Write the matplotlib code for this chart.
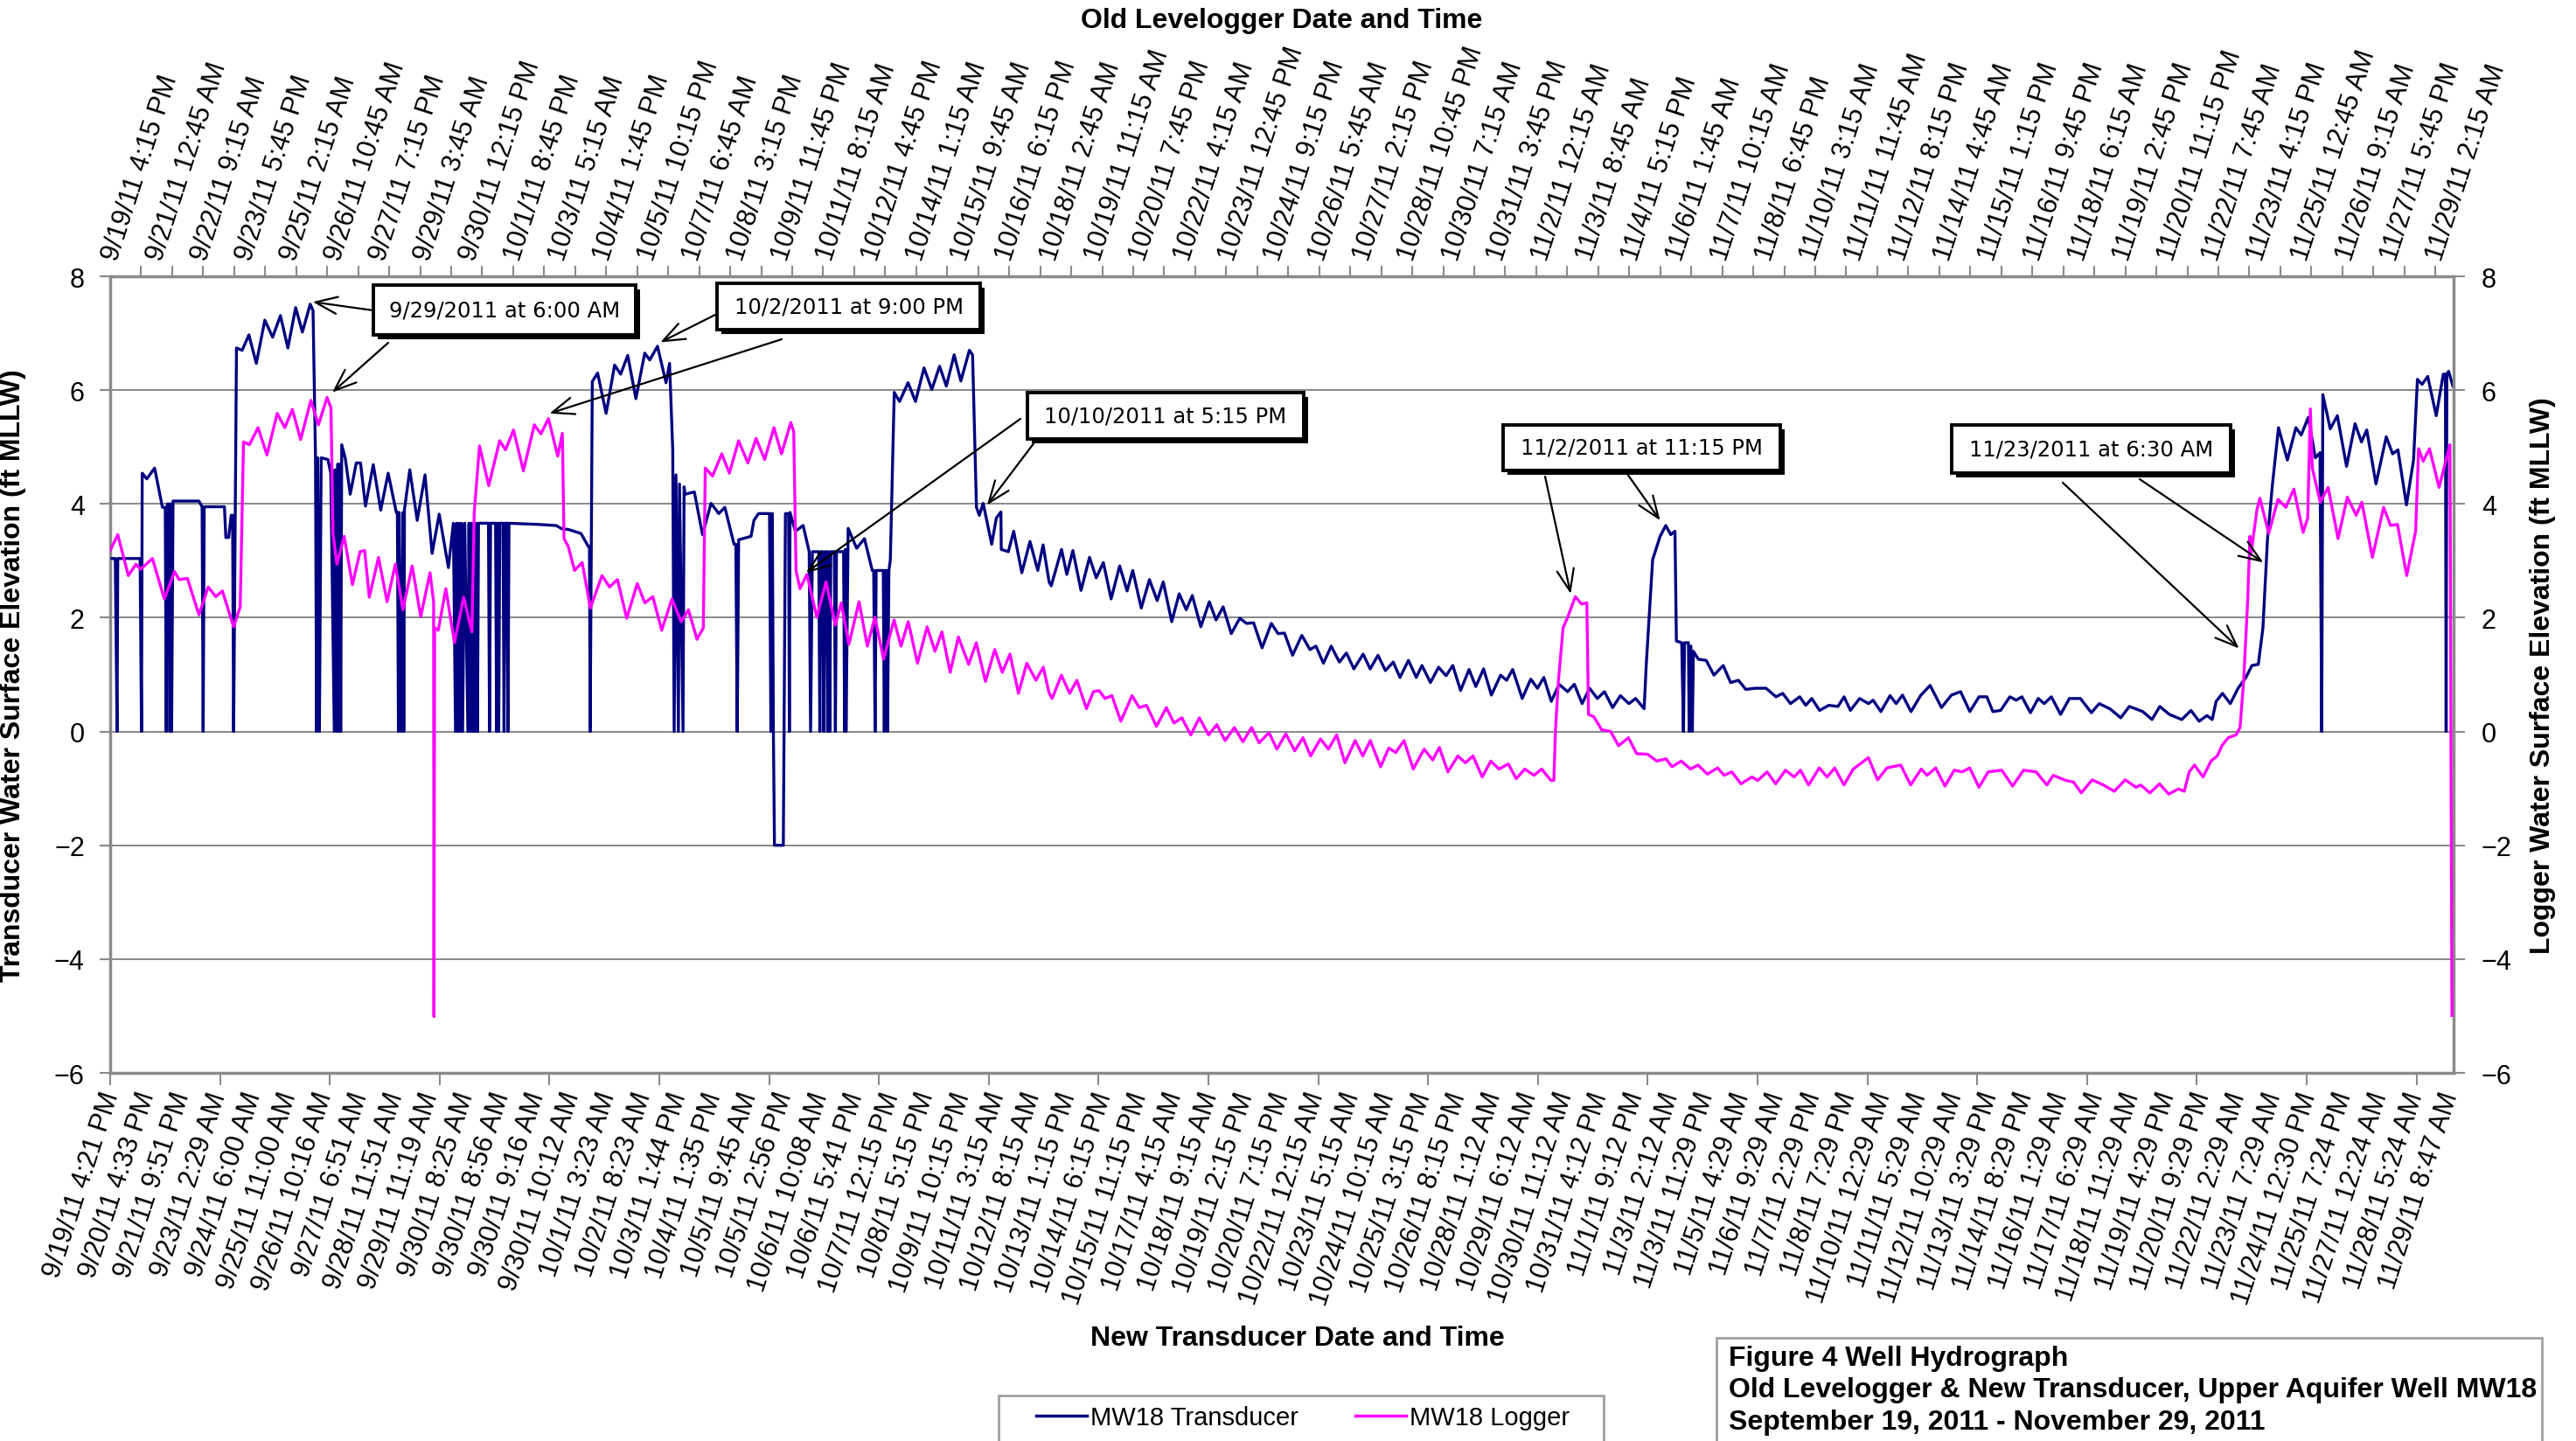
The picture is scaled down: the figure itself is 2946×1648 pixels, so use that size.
import numpy as np
import matplotlib
matplotlib.use('Agg')
import matplotlib.pyplot as plt
from matplotlib.patches import Rectangle
from matplotlib.lines import Line2D

plt.rcParams['font.family'] = ['Liberation Sans', 'DejaVu Sans']

# -------------------------------------------------------------------
# Data read off the hydrograph
# transducer: (bottom category position, ft MLLW)
# logger:     (days since 9/19/11 4:15 PM on the top axis, ft MLLW)
# -------------------------------------------------------------------
transducer = [
    (0.00, 3.04), (0.09, 3.04), (0.14, 0.0), (0.16, 3.04), (0.79, 3.04), (0.83, 0.0),
    (0.85, 4.54), (0.98, 4.44), (1.20, 4.63), (1.42, 3.94), (1.50, 3.94), (1.53, 0.0),
    (1.56, 4.0), (1.61, 4.0), (1.63, 0.0), (1.66, 4.0), (1.68, 0.0), (1.72, 4.05),
    (2.45, 4.05), (2.54, 3.95), (2.57, 0.0), (2.60, 3.95), (3.17, 3.95), (3.21, 3.41),
    (3.29, 3.41), (3.36, 3.80), (3.40, 3.80), (3.43, 0.0), (3.51, 6.74), (3.67, 6.70),
    (3.86, 6.97), (4.07, 6.47), (4.31, 7.23), (4.53, 6.93), (4.75, 7.31), (4.96, 6.74),
    (5.18, 7.45), (5.37, 7.02), (5.59, 7.51), (5.67, 7.40), (5.74, 4.81), (5.77, 0.0),
    (5.80, 4.81), (5.85, 0.0), (5.90, 4.81), (6.09, 4.78), (6.17, 4.54), (6.27, 0.0),
    (6.29, 4.6), (6.35, 0.0), (6.37, 4.7), (6.42, 0.0), (6.43, 4.7), (6.45, 0.0),
    (6.48, 5.04), (6.58, 4.80), (6.72, 4.17), (6.89, 4.72), (7.01, 4.72), (7.15, 3.96),
    (7.37, 4.69), (7.58, 3.89), (7.79, 4.54), (8.02, 3.85), (8.05, 3.85), (8.08, 0.0),
    (8.10, 3.85), (8.16, 0.0), (8.21, 3.85), (8.23, 0.0), (8.25, 3.9), (8.40, 4.60),
    (8.61, 3.71), (8.83, 4.51), (9.03, 3.13), (9.23, 3.82), (9.49, 2.88), (9.63, 3.66),
    (9.69, 0.0), (9.72, 3.66), (9.76, 0.0), (9.79, 3.66), (9.83, 0.0), (9.86, 3.66),
    (9.89, 0.0), (9.95, 3.66), (10.04, 0.0), (10.07, 3.66), (10.11, 0.0), (10.14, 3.66),
    (10.18, 0.0), (10.21, 3.66), (10.24, 0.0), (10.27, 3.66), (10.31, 0.0), (10.34, 3.66),
    (10.62, 3.66), (10.65, 0.0), (10.68, 3.66), (10.82, 3.66), (10.85, 0.0), (10.88, 3.66),
    (10.91, 0.0), (10.94, 3.66), (11.03, 3.66), (11.06, 0.0), (11.09, 3.66), (11.14, 3.66),
    (11.17, 0.0), (11.20, 3.66), (12.00, 3.64), (12.53, 3.62), (12.70, 3.56), (12.88, 3.55),
    (13.23, 3.48), (13.44, 3.25), (13.47, 3.25), (13.49, 0.0), (13.55, 6.15), (13.70, 6.30),
    (13.94, 5.59), (14.18, 6.44), (14.35, 6.28), (14.55, 6.61), (14.78, 5.85), (15.03, 6.65),
    (15.17, 6.53), (15.39, 6.77), (15.63, 6.13), (15.73, 6.47), (15.82, 4.95), (15.86, 0.0),
    (15.91, 4.51), (15.98, 0.0), (16.01, 4.35), (16.11, 0.0), (16.14, 4.30), (16.17, 4.17),
    (16.43, 4.21), (16.66, 3.46), (16.90, 4.01), (17.12, 3.83), (17.29, 3.94), (17.55, 3.29),
    (17.60, 3.29), (17.64, 0.0), (17.68, 3.37), (18.03, 3.43), (18.11, 3.71), (18.24, 3.83),
    (18.55, 3.83), (18.59, 0.0), (18.61, 3.83), (18.63, 3.83), (18.66, 0.0), (18.69, -2.0),
    (18.94, -2.0), (19.00, 3.83), (19.09, 3.83), (19.11, 0.0), (19.13, 3.85), (19.28, 3.52),
    (19.50, 3.62), (19.67, 3.16), (19.71, 0.0), (19.76, 3.16), (19.94, 3.16), (19.97, 0.0),
    (20.00, 3.16), (20.05, 3.16), (20.08, 0.0), (20.11, 3.16), (20.16, 3.16), (20.19, 0.0),
    (20.22, 3.16), (20.25, 0.0), (20.28, 3.16), (20.38, 3.16), (20.41, 0.0), (20.44, 3.16),
    (20.64, 3.16), (20.67, 0.0), (20.69, 3.2), (20.71, 0.0), (20.77, 3.57), (21.01, 3.22),
    (21.23, 3.39), (21.45, 2.83), (21.49, 2.83), (21.53, 0.0), (21.56, 2.83), (21.76, 2.83),
    (21.79, 0.0), (21.82, 2.83), (21.85, 2.83), (21.88, 0.0), (21.92, 2.83), (21.96, 3.02),
    (22.07, 5.96), (22.22, 5.80), (22.46, 6.13), (22.67, 5.80), (22.91, 6.39), (23.13, 6.01),
    (23.35, 6.42), (23.54, 6.07), (23.76, 6.62), (23.95, 6.16), (24.19, 6.70), (24.28, 6.62),
    (24.39, 3.94), (24.47, 3.80), (24.58, 4.01), (24.82, 3.29), (24.95, 3.75), (25.08, 3.86),
    (25.09, 3.20), (25.29, 3.16), (25.44, 3.52), (25.67, 2.79), (25.90, 3.34), (26.12, 2.83),
    (26.27, 3.28), (26.44, 2.63), (26.50, 2.56), (26.79, 3.20), (26.94, 2.76), (27.11, 3.18),
    (27.34, 2.48), (27.58, 3.06), (27.77, 2.70), (27.97, 2.97), (28.19, 2.33), (28.43, 2.91),
    (28.64, 2.47), (28.80, 2.83), (29.04, 2.17), (29.27, 2.67), (29.49, 2.30), (29.66, 2.63),
    (29.90, 1.93), (30.11, 2.42), (30.31, 2.14), (30.48, 2.39), (30.72, 1.84), (30.96, 2.28),
    (31.15, 1.96), (31.35, 2.19), (31.58, 1.72), (31.82, 1.99), (32.01, 1.90), (32.21, 1.91),
    (32.45, 1.47), (32.71, 1.90), (32.90, 1.72), (33.08, 1.73), (33.31, 1.34), (33.57, 1.69),
    (33.80, 1.44), (33.97, 1.50), (34.18, 1.20), (34.40, 1.50), (34.63, 1.22), (34.83, 1.38),
    (35.04, 1.10), (35.30, 1.36), (35.50, 1.10), (35.72, 1.34), (35.93, 1.07), (36.15, 1.22),
    (36.34, 0.95), (36.58, 1.25), (36.80, 0.95), (36.96, 1.16), (37.20, 0.86), (37.43, 1.13),
    (37.64, 0.98), (37.83, 1.16), (38.05, 0.72), (38.29, 1.09), (38.48, 0.79), (38.70, 1.10),
    (38.92, 0.64), (39.18, 0.99), (39.35, 0.90), (39.52, 1.09), (39.79, 0.58), (40.03, 0.92),
    (40.22, 0.76), (40.40, 0.95), (40.61, 0.53), (40.83, 0.83), (41.07, 0.70), (41.26, 0.83),
    (41.48, 0.49), (41.69, 0.76), (41.91, 0.58), (42.11, 0.70), (42.34, 0.42), (42.56, 0.63),
    (42.80, 0.49), (42.99, 0.58), (43.23, 0.40), (43.29, 1.18), (43.47, 3.02), (43.68, 3.43),
    (43.84, 3.62), (43.98, 3.46), (44.10, 3.52), (44.14, 1.59), (44.29, 1.56), (44.34, 0.0),
    (44.37, 1.56), (44.48, 1.56), (44.50, 0.0), (44.55, 1.50), (44.59, 0.0), (44.62, 1.41),
    (44.76, 1.27), (44.98, 1.25), (45.20, 0.99), (45.46, 1.16), (45.67, 0.86), (45.89, 0.90),
    (46.10, 0.74), (46.36, 0.76), (46.67, 0.76), (46.95, 0.61), (47.14, 0.67), (47.36, 0.49),
    (47.62, 0.61), (47.79, 0.46), (47.96, 0.58), (48.18, 0.37), (48.44, 0.46), (48.70, 0.44),
    (48.87, 0.61), (49.05, 0.37), (49.31, 0.58), (49.56, 0.49), (49.69, 0.55), (49.91, 0.35),
    (50.17, 0.63), (50.34, 0.49), (50.52, 0.64), (50.76, 0.35), (51.04, 0.64), (51.30, 0.81),
    (51.62, 0.42), (51.90, 0.64), (52.16, 0.70), (52.42, 0.35), (52.68, 0.61), (52.90, 0.61),
    (53.07, 0.35), (53.29, 0.37), (53.55, 0.61), (53.73, 0.55), (53.89, 0.61), (54.13, 0.33),
    (54.35, 0.58), (54.52, 0.49), (54.72, 0.61), (54.98, 0.30), (55.23, 0.58), (55.54, 0.58),
    (55.85, 0.33), (56.07, 0.49), (56.37, 0.40), (56.68, 0.24), (56.92, 0.44), (57.30, 0.35),
    (57.56, 0.21), (57.78, 0.44), (58.05, 0.30), (58.40, 0.21), (58.66, 0.37), (58.89, 0.18),
    (59.11, 0.28), (59.26, 0.21), (59.37, 0.53), (59.55, 0.67), (59.77, 0.49), (59.99, 0.76),
    (60.21, 0.95), (60.38, 1.16), (60.56, 1.18), (60.69, 1.82), (60.82, 3.39), (60.96, 4.35),
    (61.13, 5.34), (61.38, 4.77), (61.62, 5.34), (61.77, 5.21), (61.97, 5.52), (62.17, 4.81),
    (62.30, 4.90), (62.35, 0.0), (62.38, 5.92), (62.59, 5.32), (62.79, 5.55), (63.05, 4.66),
    (63.29, 5.41), (63.47, 5.09), (63.62, 5.30), (63.88, 4.35), (64.17, 5.18), (64.35, 4.88),
    (64.50, 4.95), (64.74, 3.98), (64.94, 4.77), (65.05, 6.19), (65.18, 6.10), (65.34, 6.24),
    (65.58, 5.55), (65.78, 6.28), (65.84, 6.28), (65.86, 0.0), (65.88, 6.28), (65.93, 6.33),
    (66.05, 6.07),
]

logger = [
    (0.00, 3.18), (0.23, 3.46), (0.55, 2.74), (0.78, 2.94), (0.92, 2.85), (1.28, 3.04),
    (1.64, 2.33), (1.95, 2.81), (2.09, 2.67), (2.34, 2.69), (2.69, 2.05), (2.97, 2.54),
    (3.20, 2.37), (3.40, 2.47), (3.74, 1.84), (3.94, 2.19), (4.04, 5.09), (4.22, 5.04),
    (4.48, 5.34), (4.75, 4.86), (5.06, 5.59), (5.29, 5.34), (5.52, 5.66), (5.77, 5.13),
    (6.08, 5.82), (6.31, 5.39), (6.57, 5.87), (6.69, 5.69), (6.75, 3.48), (6.87, 2.94),
    (7.09, 3.43), (7.34, 2.58), (7.57, 3.16), (7.71, 3.18), (7.85, 2.36), (8.13, 3.06),
    (8.39, 2.28), (8.64, 2.94), (8.87, 2.14), (9.15, 2.91), (9.41, 2.02), (9.69, 2.79),
    (9.80, 2.28), (9.81, -5.01), (9.83, 1.82), (9.94, 1.78), (10.17, 2.51), (10.43, 1.56),
    (10.71, 2.36), (10.96, 1.75), (11.03, 3.85), (11.19, 5.02), (11.47, 4.32), (11.80, 5.11),
    (11.98, 4.95), (12.22, 5.30), (12.52, 4.58), (12.85, 5.39), (13.05, 5.23), (13.28, 5.50),
    (13.56, 4.84), (13.70, 5.24), (13.75, 3.39), (13.88, 3.25), (14.07, 2.83), (14.30, 2.97),
    (14.55, 2.17), (14.90, 2.74), (15.13, 2.54), (15.37, 2.67), (15.65, 1.99), (15.97, 2.60),
    (16.20, 2.26), (16.44, 2.37), (16.71, 1.78), (17.02, 2.33), (17.30, 1.93), (17.52, 2.14),
    (17.78, 1.62), (17.97, 1.82), (18.03, 4.63), (18.25, 4.49), (18.53, 4.88), (18.76, 4.54),
    (19.04, 5.11), (19.32, 4.72), (19.57, 5.15), (19.83, 4.78), (20.11, 5.34), (20.34, 4.88),
    (20.62, 5.43), (20.71, 5.27), (20.78, 2.83), (20.90, 2.51), (21.11, 2.76), (21.41, 2.01),
    (21.69, 2.63), (21.97, 1.87), (22.15, 2.26), (22.38, 1.53), (22.69, 2.28), (22.94, 1.50),
    (23.17, 2.01), (23.43, 1.27), (23.75, 1.96), (23.96, 1.50), (24.18, 1.93), (24.46, 1.20),
    (24.75, 1.84), (24.99, 1.41), (25.20, 1.75), (25.45, 1.04), (25.70, 1.66), (26.01, 1.18),
    (26.24, 1.56), (26.52, 0.88), (26.80, 1.44), (27.03, 1.04), (27.26, 1.36), (27.52, 0.67),
    (27.77, 1.20), (28.05, 0.90), (28.27, 1.13), (28.45, 0.67), (28.54, 0.58), (28.82, 0.99),
    (29.07, 0.67), (29.29, 0.90), (29.58, 0.40), (29.79, 0.70), (29.96, 0.72), (30.14, 0.58),
    (30.35, 0.63), (30.62, 0.18), (30.96, 0.63), (31.18, 0.42), (31.40, 0.46), (31.70, 0.09),
    (32.00, 0.42), (32.23, 0.15), (32.47, 0.24), (32.74, -0.06), (33.00, 0.24), (33.28, -0.06),
    (33.53, 0.12), (33.78, -0.16), (34.06, 0.07), (34.32, -0.18), (34.58, 0.07), (34.81, -0.20),
    (35.11, -0.02), (35.35, -0.31), (35.62, -0.04), (35.89, -0.34), (36.14, -0.11), (36.37, -0.43),
    (36.67, -0.13), (36.91, -0.31), (37.16, -0.06), (37.41, -0.55), (37.72, -0.16), (37.95, -0.43),
    (38.18, -0.16), (38.49, -0.62), (38.74, -0.29), (38.95, -0.37), (39.20, -0.16), (39.48, -0.66),
    (39.81, -0.31), (40.07, -0.50), (40.27, -0.28), (40.53, -0.71), (40.83, -0.43), (41.06, -0.55),
    (41.29, -0.43), (41.57, -0.80), (41.83, -0.52), (42.08, -0.66), (42.36, -0.57), (42.60, -0.83),
    (42.86, -0.66), (43.14, -0.77), (43.37, -0.66), (43.65, -0.86), (43.74, -0.86), (43.79, 0.03),
    (43.88, 0.90), (44.02, 1.82), (44.16, 2.01), (44.39, 2.37), (44.58, 2.24), (44.74, 2.26),
    (44.79, 0.30), (44.95, 0.26), (45.19, 0.03), (45.46, 0.00), (45.70, -0.25), (46.00, -0.11),
    (46.25, -0.39), (46.58, -0.40), (46.86, -0.52), (47.14, -0.48), (47.32, -0.62), (47.60, -0.52),
    (47.88, -0.66), (48.11, -0.59), (48.39, -0.75), (48.70, -0.64), (48.90, -0.77), (49.13, -0.71),
    (49.41, -0.92), (49.74, -0.80), (49.92, -0.86), (50.20, -0.71), (50.46, -0.92), (50.76, -0.68),
    (51.02, -0.80), (51.21, -0.68), (51.46, -0.94), (51.78, -0.64), (52.02, -0.80), (52.25, -0.64),
    (52.53, -0.94), (52.81, -0.66), (53.27, -0.46), (53.55, -0.85), (53.83, -0.64), (54.25, -0.59),
    (54.55, -0.94), (54.87, -0.66), (55.05, -0.77), (55.31, -0.64), (55.59, -0.96), (55.87, -0.68),
    (56.11, -0.71), (56.34, -0.64), (56.62, -0.98), (56.90, -0.71), (57.31, -0.68), (57.64, -0.96),
    (57.97, -0.68), (58.35, -0.71), (58.68, -0.94), (58.87, -0.77), (59.25, -0.86), (59.49, -0.89),
    (59.72, -1.08), (60.05, -0.85), (60.39, -0.94), (60.72, -1.05), (61.05, -0.85), (61.38, -0.98),
    (61.52, -0.94), (61.80, -1.08), (62.09, -0.92), (62.37, -1.10), (62.66, -1.01), (62.84, -1.05),
    (62.99, -0.71), (63.15, -0.59), (63.41, -0.80), (63.65, -0.52), (63.84, -0.43), (63.98, -0.25),
    (64.17, -0.11), (64.41, -0.06), (64.53, 0.07), (64.64, 0.90), (64.76, 2.28), (64.83, 3.43),
    (64.86, 3.11), (65.04, 3.89), (65.13, 4.10), (65.40, 3.48), (65.68, 4.08), (65.92, 3.94),
    (66.16, 4.26), (66.44, 3.50), (66.58, 3.75), (66.66, 5.67), (66.72, 4.63), (66.96, 4.03),
    (67.20, 4.29), (67.50, 3.39), (67.78, 4.12), (68.05, 3.80), (68.22, 4.03), (68.54, 3.06),
    (68.88, 3.94), (69.09, 3.62), (69.30, 3.64), (69.58, 2.74), (69.85, 3.52), (69.94, 4.97),
    (70.08, 4.75), (70.27, 4.97), (70.56, 4.29), (70.89, 5.04), (70.95, -4.99),
]

bottom_labels = [
    "9/19/11 4:21 PM", "9/20/11 4:33 PM", "9/21/11 9:51 PM", "9/23/11 2:29 AM",
    "9/24/11 6:00 AM", "9/25/11 11:00 AM", "9/26/11 10:16 AM", "9/27/11 6:51 AM",
    "9/28/11 11:51 AM", "9/29/11 11:19 AM", "9/30/11 8:25 AM", "9/30/11 8:56 AM",
    "9/30/11 9:16 AM", "9/30/11 10:12 AM", "10/1/11 3:23 AM", "10/2/11 8:23 AM",
    "10/3/11 1:44 PM", "10/4/11 1:35 PM", "10/5/11 9:45 AM", "10/5/11 2:56 PM",
    "10/6/11 10:08 AM", "10/6/11 5:41 PM", "10/7/11 12:15 PM", "10/8/11 5:15 PM",
    "10/9/11 10:15 PM", "10/11/11 3:15 AM", "10/12/11 8:15 AM", "10/13/11 1:15 PM",
    "10/14/11 6:15 PM", "10/15/11 11:15 PM", "10/17/11 4:15 AM", "10/18/11 9:15 AM",
    "10/19/11 2:15 PM", "10/20/11 7:15 PM", "10/22/11 12:15 AM", "10/23/11 5:15 AM",
    "10/24/11 10:15 AM", "10/25/11 3:15 PM", "10/26/11 8:15 PM", "10/28/11 1:12 AM",
    "10/29/11 6:12 AM", "10/30/11 11:12 AM", "10/31/11 4:12 PM", "11/1/11 9:12 PM",
    "11/3/11 2:12 AM", "11/3/11 11:29 PM", "11/5/11 4:29 AM", "11/6/11 9:29 AM",
    "11/7/11 2:29 PM", "11/8/11 7:29 PM", "11/10/11 12:29 AM", "11/11/11 5:29 AM",
    "11/12/11 10:29 AM", "11/13/11 3:29 PM", "11/14/11 8:29 PM", "11/16/11 1:29 AM",
    "11/17/11 6:29 AM", "11/18/11 11:29 AM", "11/19/11 4:29 PM", "11/20/11 9:29 PM",
    "11/22/11 2:29 AM", "11/23/11 7:29 AM", "11/24/11 12:30 PM", "11/25/11 7:24 PM",
    "11/27/11 12:24 AM", "11/28/11 5:24 AM", "11/29/11 8:47 AM",
]

top_labels = [
    "9/19/11 4:15 PM", "9/21/11 12:45 AM", "9/22/11 9:15 AM", "9/23/11 5:45 PM",
    "9/25/11 2:15 AM", "9/26/11 10:45 AM", "9/27/11 7:15 PM", "9/29/11 3:45 AM",
    "9/30/11 12:15 PM", "10/1/11 8:45 PM", "10/3/11 5:15 AM", "10/4/11 1:45 PM",
    "10/5/11 10:15 PM", "10/7/11 6:45 AM", "10/8/11 3:15 PM", "10/9/11 11:45 PM",
    "10/11/11 8:15 AM", "10/12/11 4:45 PM", "10/14/11 1:15 AM", "10/15/11 9:45 AM",
    "10/16/11 6:15 PM", "10/18/11 2:45 AM", "10/19/11 11:15 AM", "10/20/11 7:45 PM",
    "10/22/11 4:15 AM", "10/23/11 12:45 PM", "10/24/11 9:15 PM", "10/26/11 5:45 AM",
    "10/27/11 2:15 PM", "10/28/11 10:45 PM", "10/30/11 7:15 AM", "10/31/11 3:45 PM",
    "11/2/11 12:15 AM", "11/3/11 8:45 AM", "11/4/11 5:15 PM", "11/6/11 1:45 AM",
    "11/7/11 10:15 AM", "11/8/11 6:45 PM", "11/10/11 3:15 AM", "11/11/11 11:45 AM",
    "11/12/11 8:15 PM", "11/14/11 4:45 AM", "11/15/11 1:15 PM", "11/16/11 9:45 PM",
    "11/18/11 6:15 AM", "11/19/11 2:45 PM", "11/20/11 11:15 PM", "11/22/11 7:45 AM",
    "11/23/11 4:15 PM", "11/25/11 12:45 AM", "11/26/11 9:15 AM", "11/27/11 5:45 PM",
    "11/29/11 2:15 AM",
]

# callouts: text, and the point on each series that its arrows mark
callout_text = ["9/29/2011 at 6:00 AM", "10/2/2011 at 9:00 PM", "10/10/2011 at 5:15 PM",
                "11/2/2011 at 11:15 PM", "11/23/2011 at 6:30 AM"]
callout_navy = [(5.66, 7.55), (15.47, 6.84), (24.69, 3.98), (43.68, 3.71), (60.70, 2.97)]
callout_pink = [(6.73, 5.96), (13.31, 5.59), (21.08, 2.79), (44.25, 2.42), (64.50, 1.46)]

# -------------------------------------------------------------------
# Layout (pixels of the 2946 x 1649 output, measured from top-left)
# -------------------------------------------------------------------
W, H = 2946, 1649
AX_L, AX_R, AX_T, AX_B = 126, 2806, 317, 1228

box_px = [(427, 327, 727, 384), (820, 325, 1121, 378), (1175, 450, 1491, 503),
          (1719, 487, 2036, 539), (2232, 487, 2551, 542)]
tail_navy = [(427, 356), (820, 360), (1183, 507), (1861, 543), (2447, 549)]
tail_pink = [(444, 393), (894, 389), (1167, 480), (1767, 546), (2359, 553)]

NAVY = '#000080'
PINK = '#FF00FF'
GRAY = '#8a8a8a'


def fx(x):
    return x / W


def fy(y):
    return 1 - y / H


fig = plt.figure(figsize=(W / 100, H / 100), dpi=100)
rect = [fx(AX_L), fy(AX_B), (AX_R - AX_L) / W, (AX_B - AX_T) / H]
ax = fig.add_axes(rect)
ax2 = fig.add_axes(rect, label='logger')
ax2.patch.set_alpha(0)

tx, ty = np.array(transducer).T
lx, ly = np.array(logger).T
ax.plot(tx, ty, color=NAVY, lw=2.4, zorder=3)
ax2.plot(lx, ly, color=PINK, lw=2.4, zorder=3)

for a in (ax, ax2):
    a.set_ylim(-6, 8)
    a.set_yticks(np.arange(-6, 9, 2))
ax.set_xlim(-0.05, 66.07)
ax2.set_xlim(0, 71.0)

ax.yaxis.grid(True, color='#7f7f7f', lw=1.3)
ax.set_axisbelow(True)

# bottom axis: transducer categories
ax.set_xticks(np.arange(len(bottom_labels)))
ax.set_xticklabels(bottom_labels, fontsize=22)
ax.set_xticks(-0.054 + 3.099 * np.arange(22), minor=True)
ax.tick_params(axis='x', which='major', length=0, pad=16)
ax.tick_params(axis='x', which='minor', length=10, width=1.5, color=GRAY)
plt.setp(ax.get_xticklabels(), rotation=72, ha='right', va='center', rotation_mode='anchor')
ax.tick_params(axis='y', length=9, width=1.5, color=GRAY, labelsize=22, pad=12)

# top axis: logger timestamps (one label per 130 readings of 15 min)
ax2.xaxis.tick_top()
ax2.yaxis.tick_right()
ax2.set_xticks(np.arange(len(top_labels)) * 130 * 0.25 / 24)
ax2.set_xticklabels(top_labels, fontsize=22)
ax2.set_xticks(0.9393 * np.arange(76), minor=True)
ax2.tick_params(axis='x', which='major', length=0, pad=14)
ax2.tick_params(axis='x', which='minor', length=9, width=1.5, color=GRAY)
plt.setp(ax2.get_xticklabels(), rotation=72, ha='left', va='center', rotation_mode='anchor')
ax2.tick_params(axis='y', length=9, width=1.5, color=GRAY, labelsize=22, pad=14)

for s in ('top', 'right'):
    ax.spines[s].set_visible(False)
for s in ('left', 'bottom'):
    ax2.spines[s].set_visible(False)
for a in (ax, ax2):
    for s in a.spines.values():
        s.set_color(GRAY)
        s.set_linewidth(2.5)

ax.set_ylabel('Transducer Water Surface Elevation (ft MLLW)', fontsize=23, fontweight='bold')
ax.yaxis.set_label_coords((30 - AX_L) / (AX_R - AX_L), 0.5)
ax2.set_ylabel('Logger Water Surface Elevation (ft MLLW)', fontsize=23, fontweight='bold',
               rotation=90, va='center')
ax2.yaxis.set_label_position('right')
ax2.yaxis.set_label_coords((2893 - AX_L) / (AX_R - AX_L), 0.5)

fig.text(fx(1466), fy(24), 'Old Levelogger Date and Time', fontsize=23, fontweight='bold',
         ha='center', va='center')
fig.text(fx(1484), fy(1531), 'New Transducer Date and Time', fontsize=23, fontweight='bold',
         ha='center', va='center')

# callout boxes with shadow and arrows
for text, (x0, y0, x1, y1) in zip(callout_text, box_px):
    fig.add_artist(Rectangle((fx(x0 + 5), fy(y1 + 5)), (x1 - x0) / W, (y1 - y0) / H,
                             transform=fig.transFigure, facecolor='black',
                             edgecolor='black', lw=0, zorder=5))
    fig.add_artist(Rectangle((fx(x0), fy(y1)), (x1 - x0) / W, (y1 - y0) / H,
                             transform=fig.transFigure, facecolor='white',
                             edgecolor='black', lw=2.8, zorder=6))
    fig.text(fx((x0 + x1) / 2), fy((y0 + y1) / 2), text, family='DejaVu Sans',
             fontsize=17.5, ha='center', va='center', zorder=7)

arrow_kw = dict(arrowstyle='->,head_length=0.9,head_width=0.35', color='black', lw=1.6,
                shrinkA=0, shrinkB=0, mutation_scale=20)
for (nx, ny), (px, py) in zip(callout_navy, tail_navy):
    ax2.annotate('', xy=(nx, ny), xycoords=ax.transData, xytext=(px, H - py),
                 textcoords='figure pixels', arrowprops=arrow_kw, annotation_clip=False)
for (mx, my), (px, py) in zip(callout_pink, tail_pink):
    ax2.annotate('', xy=(mx, my), xycoords='data', xytext=(px, H - py),
                 textcoords='figure pixels', arrowprops=arrow_kw, annotation_clip=False)

# legend box at the bottom
fig.add_artist(Rectangle((fx(1142), fy(1665)), 692 / W, (1665 - 1597) / H,
                         transform=fig.transFigure, facecolor='white',
                         edgecolor='#a0a0a0', lw=2))
handles = [Line2D([], [], color=NAVY, lw=2.5), Line2D([], [], color=PINK, lw=2.5)]
fig.legend(handles, ['MW18 Transducer', 'MW18 Logger'], loc='center',
           bbox_to_anchor=(fx(1490), fy(1622)), ncol=2, frameon=False, fontsize=21,
           handlelength=2.0, handletextpad=0.15, columnspacing=2.2)

# figure caption box
fig.add_artist(Rectangle((fx(1963), fy(1665)), 944 / W, (1665 - 1531) / H,
                         transform=fig.transFigure, facecolor='white',
                         edgecolor='#a0a0a0', lw=2))
caption = ["Figure 4 Well Hydrograph",
           "Old Levelogger & New Transducer, Upper Aquifer Well MW18",
           "September 19, 2011 - November 29, 2011"]
for line, yy in zip(caption, (1554, 1590, 1627)):
    fig.text(fx(1977), fy(yy), line, fontsize=23, fontweight='bold', ha='left', va='center')

fig.savefig('out.png', dpi=100)
